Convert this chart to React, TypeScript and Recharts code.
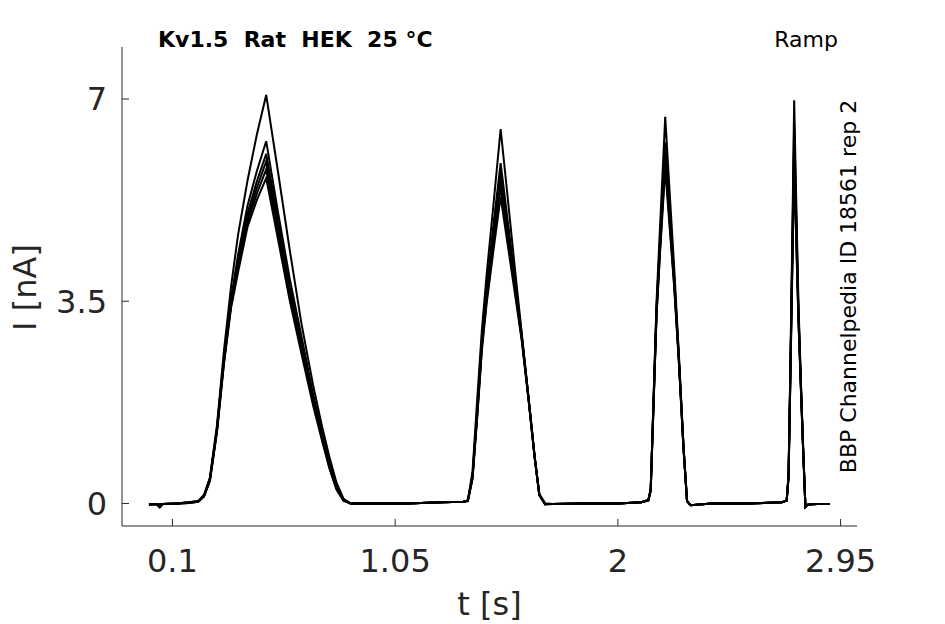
import { Line, LineChart, XAxis, YAxis } from "recharts";

// sample times (s) shared by all sweeps
const time = [
  0.0, 0.03, 0.046, 0.06, 0.12, 0.17, 0.21,
  0.235, 0.26, 0.29, 0.32, 0.35, 0.38, 0.42, 0.46, 0.5, 0.55, 0.6, 0.65, 0.7, 0.74, 0.77, 0.8, 0.83, 0.86,
  0.95, 1.1, 1.25, 1.34,
  1.36, 1.38, 1.4, 1.42, 1.44, 1.47, 1.5, 1.53, 1.56, 1.59, 1.62, 1.645, 1.665, 1.69,
  1.72, 1.85, 2.0, 2.1,
  2.13, 2.14, 2.15, 2.165, 2.18, 2.202, 2.22, 2.24, 2.26, 2.28, 2.295, 2.31,
  2.4, 2.55, 2.7,
  2.72, 2.728, 2.735, 2.744, 2.752, 2.76, 2.77, 2.78, 2.79, 2.8, 2.81,
  2.85, 2.903,
];

// current (nA) per repetition
const sweepA = [
  -0.02, -0.01, -0.07, -0.01, 0.0, 0.02, 0.04,
  0.15, 0.45, 1.35, 2.65, 3.75, 4.65, 5.58, 6.38, 7.07, 5.75, 4.4, 3.12, 2.05, 1.3, 0.8, 0.36, 0.08, 0.0,
  0.0, 0.0, 0.02, 0.03,
  0.05, 0.55, 1.8, 3.0, 3.95, 5.2, 6.48, 5.3, 4.1, 2.95, 1.78, 0.8, 0.15, 0.0,
  -0.01, 0.0, 0.0, 0.02,
  0.06, 0.25, 1.55, 3.5, 4.8, 6.69, 5.45, 4.1, 2.6, 1.0, 0.05, -0.03,
  0.0, 0.0, 0.02,
  0.05, 0.5, 2.2, 4.6, 6.98, 5.4, 3.5, 2.2, 1.0, -0.06, -0.02,
  -0.01, -0.01,
];
const sweepB = [
  -0.02, -0.01, -0.02, -0.01, 0.0, 0.02, 0.04,
  0.14, 0.43, 1.3, 2.55, 3.55, 4.3, 5.15, 5.75, 6.27, 5.05, 3.9, 2.9, 1.9, 1.18, 0.7, 0.29, 0.07, 0.0,
  0.0, 0.0, 0.02, 0.03,
  0.05, 0.48, 1.62, 2.85, 3.72, 4.85, 5.89, 4.9, 3.92, 2.92, 1.8, 0.82, 0.16, 0.0,
  -0.01, 0.0, 0.0, 0.02,
  0.06, 0.24, 1.5, 3.4, 4.6, 6.25, 5.15, 3.95, 2.55, 0.98, 0.05, -0.03,
  0.0, 0.0, 0.02,
  0.05, 0.48, 2.12, 4.4, 6.6, 5.15, 3.4, 2.15, 0.98, -0.06, -0.02,
  -0.01, -0.01,
];
const sweepC = [
  -0.02, -0.01, -0.02, -0.01, 0.0, 0.02, 0.04,
  0.13, 0.42, 1.28, 2.5, 3.48, 4.18, 5.02, 5.57, 6.05, 4.92, 3.76, 2.78, 1.82, 1.14, 0.66, 0.27, 0.06, 0.0,
  0.0, 0.0, 0.02, 0.03,
  0.05, 0.46, 1.58, 2.78, 3.64, 4.72, 5.75, 4.8, 3.85, 2.9, 1.79, 0.82, 0.16, -0.01,
  -0.01, 0.0, 0.0, 0.02,
  0.06, 0.23, 1.48, 3.35, 4.52, 6.1, 5.05, 3.9, 2.52, 0.97, 0.04, -0.03,
  0.0, 0.0, 0.02,
  0.05, 0.47, 2.08, 4.28, 6.35, 5.0, 3.33, 2.12, 0.97, -0.06, -0.02,
  -0.01, -0.01,
];
const sweepD = [
  -0.02, -0.01, -0.02, -0.01, 0.0, 0.01, 0.04,
  0.13, 0.41, 1.27, 2.48, 3.45, 4.12, 4.94, 5.46, 5.92, 4.8, 3.68, 2.73, 1.78, 1.12, 0.64, 0.26, 0.06, 0.0,
  0.0, 0.0, 0.02, 0.03,
  0.05, 0.45, 1.55, 2.74, 3.58, 4.62, 5.62, 4.7, 3.8, 2.88, 1.78, 0.81, 0.15, -0.01,
  -0.01, 0.0, 0.0, 0.02,
  0.06, 0.23, 1.46, 3.32, 4.46, 6.0, 4.98, 3.85, 2.5, 0.96, 0.04, -0.03,
  0.0, 0.0, 0.02,
  0.05, 0.46, 2.05, 4.2, 6.15, 4.88, 3.28, 2.1, 0.96, -0.06, -0.02,
  -0.01, -0.01,
];
const sweepE = [
  -0.02, -0.01, -0.02, -0.01, 0.0, 0.01, 0.03,
  0.12, 0.4, 1.25, 2.45, 3.42, 4.06, 4.86, 5.36, 5.78, 4.7, 3.6, 2.67, 1.74, 1.09, 0.62, 0.25, 0.05, 0.0,
  0.0, 0.0, 0.02, 0.03,
  0.04, 0.44, 1.52, 2.7, 3.52, 4.52, 5.48, 4.6, 3.74, 2.85, 1.77, 0.8, 0.15, -0.01,
  -0.01, 0.0, 0.0, 0.02,
  0.05, 0.22, 1.44, 3.28, 4.4, 5.9, 4.9, 3.8, 2.48, 0.95, 0.04, -0.03,
  0.0, 0.0, 0.02,
  0.05, 0.45, 2.02, 4.1, 5.95, 4.76, 3.22, 2.07, 0.95, -0.06, -0.02,
  -0.01, -0.01,
];
const sweepF = [
  -0.02, -0.01, -0.02, -0.01, 0.0, 0.01, 0.03,
  0.12, 0.39, 1.23, 2.42, 3.38, 4.0, 4.78, 5.25, 5.63, 4.58, 3.52, 2.6, 1.7, 1.06, 0.6, 0.24, 0.05, 0.0,
  0.0, 0.0, 0.02, 0.03,
  0.04, 0.42, 1.48, 2.65, 3.45, 4.4, 5.31, 4.48, 3.66, 2.82, 1.75, 0.79, 0.14, -0.02,
  -0.01, 0.0, 0.0, 0.02,
  0.05, 0.22, 1.42, 3.25, 4.34, 5.8, 4.83, 3.76, 2.46, 0.94, 0.04, -0.03,
  0.0, 0.0, 0.02,
  0.05, 0.44, 1.98, 4.0, 5.8, 4.66, 3.18, 2.05, 0.94, -0.06, -0.02,
  -0.01, -0.01,
];

const sweeps = [sweepA, sweepB, sweepC, sweepD, sweepE, sweepF];
const xTicks = [0.1, 1.05, 2, 2.95];
const yTicks = [0, 3.5, 7];

const rows = time.map((t, i) => {
  const row: Record<string, number> = { t };
  sweeps.forEach((s, k) => {
    row[`s${k}`] = s[i];
  });
  return row;
});

const FONT = "'DejaVu Sans', sans-serif";
const AXIS = "#262626";
const tickStyle = { fill: AXIS, fontSize: 32, fontFamily: FONT };

export default function App() {
  return (
    <div style={{ position: "relative", width: 945, height: 624, background: "#fff" }}>
      <style>{"body{margin:0}"}</style>
      <LineChart width={945} height={624} data={rows} margin={{ top: 47, right: 88, bottom: 38, left: 62 }}>
        <XAxis
          dataKey="t"
          type="number"
          domain={[-0.115, 3.02]}
          ticks={xTicks}
          interval={0}
          allowDataOverflow
          height={60}
          stroke={AXIS}
          tickSize={-7}
          tickMargin={30}
          tick={tickStyle}
        />
        <YAxis
          type="number"
          domain={[-0.39, 7.9]}
          ticks={yTicks}
          interval={0}
          allowDataOverflow
          width={60}
          stroke={AXIS}
          tickSize={-7}
          tickMargin={22}
          tick={tickStyle}
        />
        {sweeps.map((_, k) => (
          <Line
            key={k}
            dataKey={`s${k}`}
            type="linear"
            stroke="#000"
            strokeWidth={2}
            dot={false}
            isAnimationActive={false}
          />
        ))}
      </LineChart>
      <svg width={945} height={624} style={{ position: "absolute", left: 0, top: 0, pointerEvents: "none" }}>
        <text x={158} y={47} fontFamily={FONT} fontSize={22} fontWeight="bold" fill="#000" style={{ whiteSpace: "pre" }}>
          {"Kv1.5  Rat  HEK  25 °C"}
        </text>
        <text x={838} y={47} fontFamily={FONT} fontSize={22} fill="#000" textAnchor="end">
          Ramp
        </text>
        <text
          transform="translate(856,286.5) rotate(-90)"
          fontFamily={FONT}
          fontSize={22}
          fill="#000"
          textAnchor="middle"
        >
          BBP Channelpedia ID 18561 rep 2
        </text>
        <text transform="translate(36,287.5) rotate(-90)" fontFamily={FONT} fontSize={32} fill={AXIS} textAnchor="middle">
          I [nA]
        </text>
        <text x={489.5} y={615} fontFamily={FONT} fontSize={32} fill={AXIS} textAnchor="middle">
          t [s]
        </text>
      </svg>
    </div>
  );
}
